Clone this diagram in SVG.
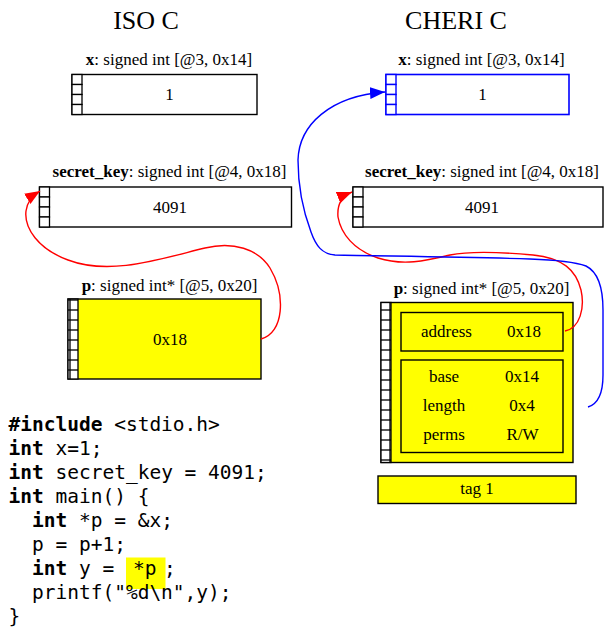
<svg xmlns="http://www.w3.org/2000/svg" width="605" height="630" viewBox="0 0 605 630">
  <style>
    .title { font-family: "Liberation Serif", "Times New Roman", serif; font-size: 26px; fill: #000; text-anchor: middle; }
    .lbl { font-family: "Liberation Serif", "Times New Roman", serif; font-size: 17px; fill: #000; text-anchor: middle; }
    .val { font-family: "Liberation Serif", "Times New Roman", serif; font-size: 17px; fill: #000; text-anchor: middle; }
    .box { fill: #fff; stroke: #000; stroke-width: 1.4; }
    .ybox { fill: #ffff00; stroke: #000; stroke-width: 1.4; }
    .bbox { fill: #fff; stroke: #0000ff; stroke-width: 1.6; }
    .cell { fill: #fff; stroke: #000; stroke-width: 1.3; }
    .bcell { fill: #fff; stroke: #0000ff; stroke-width: 1.4; }
    .code { font-family: "DejaVu Sans Mono", monospace; font-size: 19.5px; fill: #000; white-space: pre; }
    .kw { font-weight: bold; }
    .red { fill: none; stroke: #ff0000; stroke-width: 1.4; }
    .blue { fill: none; stroke: #0000ff; stroke-width: 1.4; }
  </style>
  <defs>
    <marker id="arrRed" markerUnits="userSpaceOnUse" markerWidth="16" markerHeight="14" viewBox="0 0 16 14" refX="15" refY="7" orient="auto">
      <path d="M0,1 L15,7 L0,13 Z" fill="#ff0000"/>
    </marker>
    <marker id="arrBlue" markerUnits="userSpaceOnUse" markerWidth="16" markerHeight="14" viewBox="0 0 16 14" refX="15" refY="7" orient="auto">
      <path d="M0,1 L15,7 L0,13 Z" fill="#0000ff"/>
    </marker>
    <!-- 10px byte cell column -->
    <pattern id="cellsBlack" x="0" y="0" width="10" height="10" patternUnits="userSpaceOnUse">
      <rect width="10" height="10" fill="#fff" stroke="#000" stroke-width="1.3"/>
    </pattern>
  </defs>

  <!-- column headings -->
  <text class="title" x="146" y="29">ISO C</text>
  <text class="title" x="456" y="29">CHERI C</text>

  <!-- ISO C memory -->
  <g id="iso-x">
    <text class="lbl" x="169" y="65"><tspan font-weight="bold">x</tspan>: signed int [@3, 0x14]</text>
    <rect class="box" x="72" y="74.5" width="185" height="40"/>
    <g class="cell">
      <rect x="72" y="74.5" width="10" height="10"/>
      <rect x="72" y="84.5" width="10" height="10"/>
      <rect x="72" y="94.5" width="10" height="10"/>
      <rect x="72" y="104.5" width="10" height="10"/>
    </g>
    <text class="val" x="169.5" y="100">1</text>
  </g>

  <g id="iso-secret-key">
    <text class="lbl" x="169.5" y="177"><tspan font-weight="bold">secret_key</tspan>: signed int [@4, 0x18]</text>
    <rect class="box" x="39.5" y="187" width="252" height="40"/>
    <g class="cell">
      <rect x="39.5" y="187" width="10" height="10"/>
      <rect x="39.5" y="197" width="10" height="10"/>
      <rect x="39.5" y="207" width="10" height="10"/>
      <rect x="39.5" y="217" width="10" height="10"/>
    </g>
    <text class="val" x="170" y="212.5">4091</text>
  </g>

  <g id="iso-p">
    <text class="lbl" x="169.5" y="290.5"><tspan font-weight="bold">p</tspan>: signed int* [@5, 0x20]</text>
    <rect class="ybox" x="68" y="299" width="193" height="80"/>
    <rect x="68" y="299" width="10" height="80" fill="url(#cellsBlack)" stroke="#000" stroke-width="1.3"/>
    <text class="val" x="170" y="344.5">0x18</text>
  </g>

  <!-- CHERI C memory -->
  <g id="cheri-x">
    <text class="lbl" x="481.5" y="65"><tspan font-weight="bold">x</tspan>: signed int [@3, 0x14]</text>
    <rect class="bbox" x="386" y="74.5" width="183" height="40"/>
    <g class="bcell">
      <rect x="386" y="74.5" width="10" height="10"/>
      <rect x="386" y="84.5" width="10" height="10"/>
      <rect x="386" y="94.5" width="10" height="10"/>
      <rect x="386" y="104.5" width="10" height="10"/>
    </g>
    <text class="val" x="482.5" y="100">1</text>
  </g>

  <g id="cheri-secret-key">
    <text class="lbl" x="482" y="177"><tspan font-weight="bold">secret_key</tspan>: signed int [@4, 0x18]</text>
    <rect class="box" x="353" y="187" width="250" height="40"/>
    <g class="cell">
      <rect x="353" y="187" width="10" height="10"/>
      <rect x="353" y="197" width="10" height="10"/>
      <rect x="353" y="207" width="10" height="10"/>
      <rect x="353" y="217" width="10" height="10"/>
    </g>
    <text class="val" x="482" y="212.5">4091</text>
  </g>

  <g id="cheri-p">
    <text class="lbl" x="481.5" y="294"><tspan font-weight="bold">p</tspan>: signed int* [@5, 0x20]</text>
    <rect class="ybox" x="381" y="302.5" width="192" height="160"/>
    <rect x="381" y="302.5" width="10" height="160" fill="url(#cellsBlack)" stroke="#000" stroke-width="1.3"/>
    <rect class="ybox" x="401" y="312.5" width="162" height="38.5"/>
    <text class="val" x="446.5" y="336.5">address</text>
    <text class="val" x="524" y="336.5">0x18</text>
    <rect class="ybox" x="401" y="360" width="162" height="92.5"/>
    <text class="val" x="444" y="382">base</text>
    <text class="val" x="522" y="382">0x14</text>
    <text class="val" x="444" y="411">length</text>
    <text class="val" x="522" y="411">0x4</text>
    <text class="val" x="444" y="439.5">perms</text>
    <text class="val" x="522.5" y="439.5">R/W</text>
  </g>

  <g id="cheri-tag">
    <rect class="ybox" x="378" y="476" width="198" height="27.5"/>
    <text class="val" x="477" y="494">tag 1</text>
  </g>

  <!-- pointer connectors -->
  <g id="connectors">
    <path class="red" marker-end="url(#arrRed)" d="M261,339 C284,333 286,295 270,268 C258,249 233,241 205,248 C160,259 110,276 68,260 C38,249 24,228 26,211 C27,202 32,196 40,191"/>
    <path class="red" marker-end="url(#arrRed)" d="M565,331 C580,328 585,308 581,290 C576,270 563,258 533,255 C500,252 470,251 450,255 C425,261 403,266 378,258 C354,250 341,234 338,217 C337,205 342,196 352,192"/>
    <path class="blue" marker-end="url(#arrBlue)" d="M588,407 C598,404 603,392 603,375 L603,310 C603,288 598,272 586,266 C575,262 560,260 530,259 C470,257 380,256 335,255 C322,254 316,246 311,232 C302,208 298,185 298,160 C299,125 330,96 385,92"/>
  </g>

  <!-- source listing -->
  <g id="source">
    <text class="code" x="8.5" y="431"><tspan class="kw">#include</tspan> &lt;stdio.h&gt;</text>
    <text class="code" x="8.5" y="455"><tspan class="kw">int</tspan> x=1;</text>
    <text class="code" x="8.5" y="479"><tspan class="kw">int</tspan> secret_key = 4091;</text>
    <text class="code" x="8.5" y="503"><tspan class="kw">int</tspan> main() {</text>
    <text class="code" x="8.5" y="527">  <tspan class="kw">int</tspan> *p = &amp;x;</text>
    <text class="code" x="8.5" y="551">  p = p+1;</text>
    <rect x="126" y="557.5" width="39.5" height="31.5" fill="#ffff00"/>
    <text class="code" x="8.5" y="575">  <tspan class="kw">int</tspan> y = </text>
    <text class="code" x="133" y="575">*p</text>
    <text class="code" x="164" y="575">;</text>
    <text class="code" x="8.5" y="599">  printf("%d\n",y);</text>
    <text class="code" x="8.5" y="623">}</text>
  </g>
</svg>
